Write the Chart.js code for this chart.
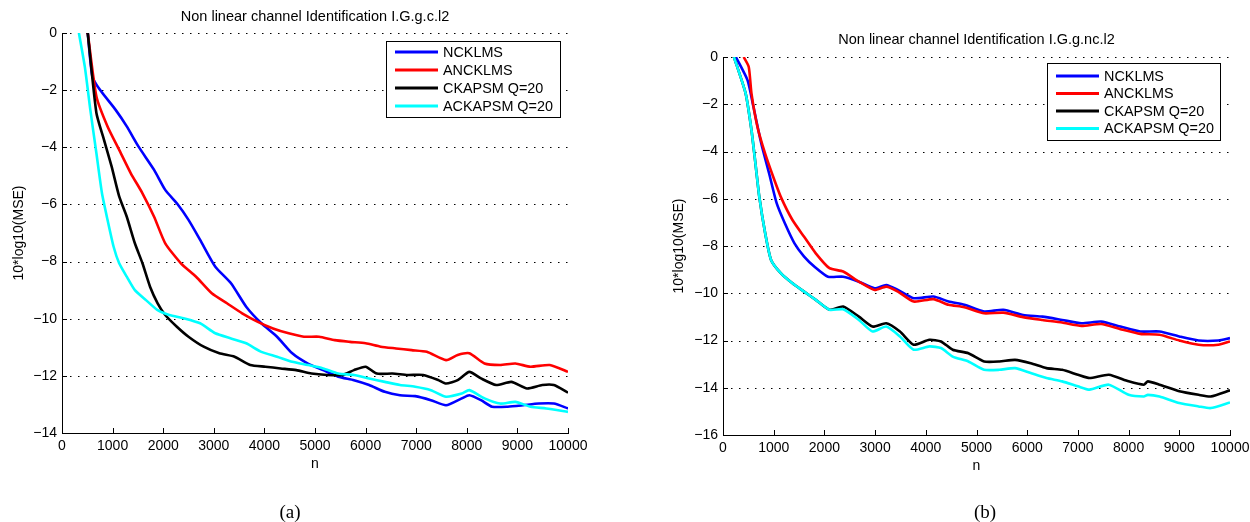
<!DOCTYPE html>
<html>
<head>
<meta charset="utf-8">
<script src="https://cdn.jsdelivr.net/npm/chart.js@4.4.1/dist/chart.umd.min.js"></script>
<style>
  html, body { margin: 0; padding: 0; background: #fff; }
  body { width: 1250px; height: 522px; position: relative; overflow: hidden; }
  #wrapA { position: absolute; left: 0; top: 0; width: 600px; height: 522px; }
  #wrapB { position: absolute; left: 660px; top: 0; width: 595px; height: 522px; }
  .cap { position: absolute; top: 512px; transform: translate(-50%, -50%);
         font-family: "Liberation Serif", "Times New Roman", serif; font-size: 19px; color: #000; }
</style>
</head>
<body>
<div id="wrapA"><canvas id="chartA" width="600" height="522"></canvas></div>
<div id="wrapB"><canvas id="chartB" width="595" height="522"></canvas></div>
<div class="cap" style="left:290px">(a)</div>
<div class="cap" style="left:985px">(b)</div>
<script>
// legend labels, same for both panels
const seriesNames = ['NCKLMS', 'ANCKLMS', 'CKAPSM Q=20', 'ACKAPSM Q=20'];
const seriesColors = ['#0000ff', '#ff0000', '#000000', '#00ffff'];

// (a) Non linear channel Identification I.G.g.c.l2
const nBlueA = [509, 600, 750, 1060, 1280, 1510, 1820, 2040, 2270, 2500, 2730, 3030, 3340, 3640, 3940, 4250, 4550, 4860, 5160, 5460, 5770, 6070, 6380, 6680, 6980, 7290, 7590, 7900, 8050, 8280, 8500, 8810, 9110, 9420, 9720, 10000];
const vBlueA = [0, -1.52, -1.99, -2.69, -3.27, -3.97, -4.79, -5.49, -5.96, -6.54, -7.24, -8.18, -8.76, -9.58, -10.16, -10.63, -11.21, -11.57, -11.80, -12.03, -12.15, -12.32, -12.56, -12.68, -12.71, -12.85, -13.03, -12.79, -12.68, -12.85, -13.08, -13.08, -13.03, -12.97, -12.97, -13.14];

const nRedA = [509, 680, 900, 1130, 1360, 1590, 1820, 2040, 2350, 2650, 2960, 3260, 3560, 3870, 4170, 4480, 4780, 5080, 5390, 5690, 6000, 6300, 6600, 6910, 7210, 7590, 7820, 8050, 8350, 8660, 8960, 9260, 9640, 10000];
const vRedA = [0, -2.22, -3.27, -4.09, -4.91, -5.61, -6.43, -7.36, -8.06, -8.53, -9.11, -9.46, -9.81, -10.11, -10.34, -10.51, -10.63, -10.63, -10.75, -10.81, -10.86, -10.98, -11.04, -11.10, -11.16, -11.45, -11.27, -11.21, -11.57, -11.62, -11.57, -11.68, -11.62, -11.86];

const nBlackA = [509, 680, 830, 980, 1130, 1280, 1440, 1590, 1740, 1890, 2040, 2270, 2500, 2800, 3110, 3410, 3720, 4020, 4320, 4630, 4930, 5240, 5540, 5770, 6000, 6220, 6530, 6830, 7140, 7440, 7590, 7820, 8050, 8280, 8580, 8880, 9190, 9490, 9720, 10000];
const vBlackA = [0, -2.80, -3.74, -4.67, -5.72, -6.43, -7.36, -8.06, -8.88, -9.46, -9.87, -10.28, -10.63, -10.98, -11.21, -11.33, -11.62, -11.68, -11.74, -11.80, -11.92, -11.97, -11.97, -11.80, -11.68, -11.92, -11.92, -11.97, -11.97, -12.15, -12.27, -12.15, -11.86, -12.09, -12.32, -12.21, -12.44, -12.32, -12.32, -12.59];

const nCyanA = [334, 450, 560, 680, 790, 900, 1020, 1130, 1280, 1440, 1660, 1890, 2120, 2420, 2730, 3030, 3340, 3640, 3940, 4250, 4550, 4860, 5160, 5460, 5770, 6070, 6380, 6680, 6980, 7290, 7590, 7900, 8050, 8350, 8660, 8960, 9260, 9570, 10000];
const vCyanA = [0, -1.17, -2.69, -4.21, -5.61, -6.54, -7.48, -8.06, -8.53, -9.00, -9.35, -9.70, -9.87, -9.99, -10.16, -10.51, -10.69, -10.86, -11.16, -11.33, -11.51, -11.62, -11.74, -11.92, -11.97, -12.09, -12.21, -12.32, -12.38, -12.50, -12.73, -12.62, -12.50, -12.79, -12.97, -12.91, -13.08, -13.14, -13.26];

// (b) Non linear channel Identification I.G.g.nc.l2
const nBlueB = [254, 485, 600, 755, 910, 1060, 1220, 1410, 1600, 1800, 2070, 2370, 2680, 2990, 3220, 3450, 3760, 4150, 4450, 4760, 5150, 5530, 5920, 6300, 6690, 7070, 7460, 7840, 8230, 8610, 9000, 9380, 9770, 10000];
const vBlueB = [0, -0.99, -2.11, -3.66, -4.93, -6.20, -7.04, -7.89, -8.45, -8.87, -9.30, -9.30, -9.51, -9.79, -9.65, -9.86, -10.21, -10.14, -10.35, -10.49, -10.77, -10.70, -10.92, -10.99, -11.13, -11.27, -11.20, -11.41, -11.62, -11.62, -11.83, -12.00, -12.00, -11.90];

const nRedB = [408, 508, 562, 680, 830, 990, 1140, 1370, 1600, 1830, 2100, 2370, 2680, 2990, 3220, 3450, 3760, 4150, 4450, 4760, 5150, 5530, 5920, 6300, 6690, 7070, 7460, 7840, 8230, 8610, 9000, 9380, 9770, 10000];
const vRedB = [0, -0.42, -1.55, -2.96, -4.08, -5.07, -5.92, -6.90, -7.61, -8.31, -8.94, -9.08, -9.51, -9.86, -9.72, -9.93, -10.35, -10.25, -10.49, -10.59, -10.85, -10.82, -11.01, -11.13, -11.24, -11.38, -11.30, -11.52, -11.72, -11.76, -12.00, -12.18, -12.18, -12.04];

const nBlackB = [216, 447, 562, 640, 716, 832, 948, 1140, 1370, 1600, 1830, 2100, 2370, 2680, 2950, 3220, 3490, 3760, 4070, 4300, 4530, 4840, 5150, 5450, 5760, 6070, 6380, 6690, 7000, 7230, 7610, 8000, 8300, 8380, 8610, 9000, 9380, 9620, 10000];
const vBlackB = [0, -1.55, -3.10, -4.51, -5.92, -7.46, -8.59, -9.15, -9.58, -9.93, -10.28, -10.70, -10.56, -10.99, -11.41, -11.27, -11.62, -12.18, -11.97, -12.04, -12.39, -12.54, -12.89, -12.89, -12.82, -12.96, -13.17, -13.24, -13.45, -13.59, -13.45, -13.73, -13.87, -13.73, -13.87, -14.15, -14.30, -14.37, -14.11];

const nCyanB = [216, 447, 562, 640, 716, 832, 948, 1140, 1370, 1600, 1830, 2100, 2370, 2680, 2950, 3220, 3490, 3760, 4070, 4300, 4530, 4840, 5150, 5450, 5760, 6070, 6380, 6690, 7000, 7230, 7610, 8000, 8300, 8380, 8610, 9000, 9380, 9620, 10000];
const vCyanB = [0, -1.55, -3.10, -4.51, -5.92, -7.46, -8.59, -9.15, -9.58, -9.93, -10.28, -10.70, -10.68, -11.13, -11.62, -11.41, -11.83, -12.39, -12.25, -12.32, -12.68, -12.89, -13.24, -13.24, -13.17, -13.38, -13.59, -13.73, -13.94, -14.08, -13.87, -14.30, -14.37, -14.30, -14.37, -14.65, -14.79, -14.86, -14.62];

const FONT = '"Liberation Sans", Arial, Helvetica, sans-serif';
Chart.defaults.color = '#000';
Chart.defaults.font.family = FONT;

function toPoints(ns, vs) {
    return ns.map((n, i) => ({ x: n, y: vs[i] }));
}

function fmtTick(v) {
    return v < 0 ? '\u2212' + Math.abs(v) : String(v);
}

// title over the axes, dotted y grid, inward ticks and the boxed legend, like the MATLAB figure
const matlabStyle = {
    id: 'matlabStyle',
    beforeDatasetsDraw(chart) {
        const { ctx, chartArea: a, scales: { y } } = chart;
        ctx.save();
        ctx.strokeStyle = '#000';
        ctx.lineWidth = 1;
        ctx.setLineDash([1.5, 6.5]);
        y.ticks.forEach(t => {
            if (t.value === y.min) return;
            const py = Math.round(y.getPixelForValue(t.value)) + 0.5;
            ctx.beginPath();
            ctx.moveTo(a.left, py);
            ctx.lineTo(a.right, py);
            ctx.stroke();
        });
        ctx.restore();
    },
    afterDatasetsDraw(chart, args, opts) {
        const { ctx, chartArea: a, scales: { x, y } } = chart;
        ctx.save();

        ctx.fillStyle = '#000';
        ctx.font = '14.5px ' + FONT;
        ctx.textAlign = 'center';
        ctx.textBaseline = 'middle';
        ctx.fillText(opts.title, (a.left + a.right) / 2, opts.titleY);

        ctx.strokeStyle = '#000';
        ctx.lineWidth = 1;
        x.ticks.forEach(t => {
            const px = Math.round(x.getPixelForValue(t.value)) + 0.5;
            ctx.beginPath();
            ctx.moveTo(px, a.bottom);
            ctx.lineTo(px, a.bottom - 5);
            ctx.stroke();
        });
        y.ticks.forEach(t => {
            const py = Math.round(y.getPixelForValue(t.value)) + 0.5;
            ctx.beginPath();
            ctx.moveTo(a.left, py);
            ctx.lineTo(a.left + 5, py);
            ctx.stroke();
        });

        // legend box
        const lg = opts.legend;
        const bx = a.right - lg.right, by = a.top + lg.top;
        ctx.fillStyle = '#fff';
        ctx.fillRect(bx, by, lg.w, lg.h);
        ctx.strokeRect(Math.round(bx) + 0.5, Math.round(by) + 0.5, lg.w, lg.h);
        ctx.font = '14.4px ' + FONT;
        ctx.textAlign = 'left';
        ctx.textBaseline = 'middle';
        chart.data.datasets.forEach((ds, i) => {
            const ry = by + lg.row0 + i * lg.rowGap;
            ctx.strokeStyle = ds.borderColor;
            ctx.lineWidth = 3;
            ctx.beginPath();
            ctx.moveTo(bx + 9, ry);
            ctx.lineTo(bx + 52, ry);
            ctx.stroke();
            ctx.fillStyle = '#000';
            ctx.fillText(ds.label, bx + 57, ry + 1);
        });
        ctx.restore();
    }
};

function buildChart(id, title, yMin, series, geo) {
    const datasets = series.map((s, i) => ({
        label: seriesNames[i],
        data: toPoints(s[0], s[1]),
        borderColor: seriesColors[i],
        borderWidth: 2.6,
        pointRadius: 0,
        tension: 0.2,
        fill: false,
        order: 4 - i
    }));
    return new Chart(document.getElementById(id), {
        type: 'line',
        data: { datasets },
        plugins: [matlabStyle],
        options: {
            responsive: false,
            animation: false,
            devicePixelRatio: 1,
            layout: { padding: geo.padding },
            plugins: {
                legend: { display: false },
                tooltip: { enabled: false },
                title: { display: false },
                matlabStyle: { title, titleY: geo.titleY, legend: geo.legend }
            },
            scales: {
                x: {
                    type: 'linear',
                    min: 0,
                    max: 10000,
                    grid: { display: false, drawTicks: false },
                    border: { display: true, color: '#000', width: 1 },
                    ticks: { stepSize: 1000, autoSkip: false, maxRotation: 0, padding: 5,
                             font: { size: 14 }, color: '#000', callback: v => String(v) },
                    title: { display: true, text: 'n', color: '#000',
                             font: { size: 14, lineHeight: 1.2 }, padding: { top: 0, bottom: 0 } },
                    afterFit: s => { s.height = geo.xH; }
                },
                y: {
                    min: yMin,
                    max: 0,
                    grid: { display: false, drawTicks: false },
                    border: { display: true, color: '#000', width: 1 },
                    ticks: { stepSize: 2, padding: 5, font: { size: 14 }, color: '#000',
                             callback: v => fmtTick(v) },
                    title: { display: true, text: '10*log10(MSE)', color: '#000',
                             font: { size: 14, lineHeight: 1.2 }, padding: { top: 10.6, bottom: 0 } },
                    afterFit: s => { s.width = geo.yW; }
                }
            }
        }
    });
}

buildChart('chartA', 'Non linear channel Identification I.G.g.c.l2', -14,
    [[nBlueA, vBlueA], [nRedA, vRedA], [nBlackA, vBlackA], [nCyanA, vCyanA]],
    {
        padding: { top: 33, left: 0, right: 32, bottom: 49.6 },
        titleY: 17,
        xH: 39.4, yW: 62,
        legend: { right: 182, top: 8, w: 174, h: 76, row0: 11, rowGap: 18 }
    });

buildChart('chartB', 'Non linear channel Identification I.G.g.nc.l2', -16,
    [[nBlueB, vBlueB], [nRedB, vRedB], [nBlackB, vBlackB], [nCyanB, vCyanB]],
    {
        padding: { top: 57, left: 0, right: 25, bottom: 47.6 },
        titleY: 40,
        xH: 39.4, yW: 63,
        legend: { right: 183, top: 6, w: 173, h: 77, row0: 13, rowGap: 17.5 }
    });
</script>
</body>
</html>
